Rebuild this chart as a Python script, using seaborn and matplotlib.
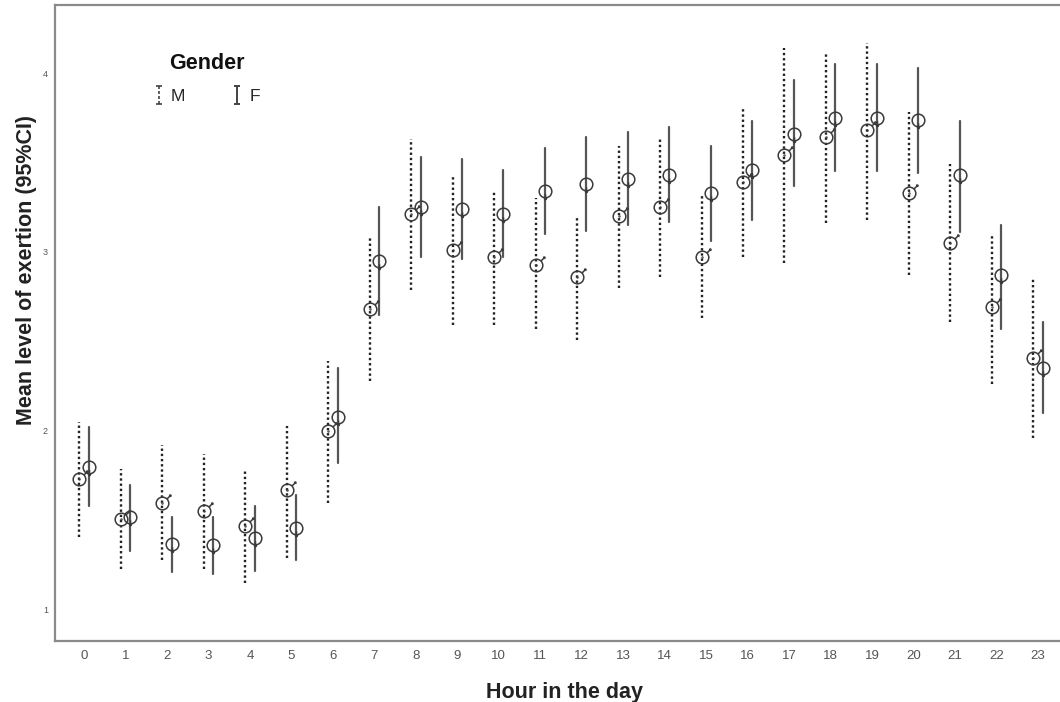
import numpy as np
import pandas as pd
import seaborn as sns
import matplotlib
matplotlib.use("Agg")
import matplotlib.pyplot as plt
from matplotlib.path import Path
from matplotlib.lines import Line2D

# ---------------- data ----------------
hours = list(range(24))
genders = ["M", "F"]
male_mean = [1.73, 1.51, 1.60, 1.55, 1.47, 1.67, 2.00, 2.68, 3.21, 3.01, 2.97, 2.93,
             2.86, 3.20, 3.25, 2.97, 3.39, 3.54, 3.64, 3.68, 3.33, 3.05, 2.69, 2.41]
male_low = [1.41, 1.23, 1.28, 1.23, 1.15, 1.29, 1.60, 2.28, 2.79, 2.59, 2.59, 2.57,
            2.51, 2.80, 2.86, 2.63, 2.97, 2.94, 3.16, 3.18, 2.87, 2.61, 2.26, 1.96]
male_high = [2.05, 1.79, 1.92, 1.87, 1.79, 2.03, 2.39, 3.09, 3.63, 3.42, 3.34, 3.30,
             3.20, 3.59, 3.63, 3.32, 3.81, 4.14, 4.11, 4.17, 3.78, 3.49, 3.10, 2.86]
female_mean = [1.80, 1.52, 1.37, 1.36, 1.40, 1.46, 2.08, 2.95, 3.25, 3.24, 3.21, 3.34,
               3.38, 3.41, 3.43, 3.33, 3.46, 3.66, 3.75, 3.75, 3.74, 3.43, 2.87, 2.35]
female_low = [1.58, 1.33, 1.21, 1.20, 1.22, 1.28, 1.82, 2.65, 2.97, 2.96, 2.97, 3.10,
              3.12, 3.15, 3.17, 3.06, 3.18, 3.37, 3.45, 3.45, 3.44, 3.11, 2.57, 2.10]
female_high = [2.02, 1.70, 1.52, 1.52, 1.58, 1.64, 2.35, 3.25, 3.53, 3.52, 3.46, 3.58,
               3.64, 3.67, 3.70, 3.59, 3.73, 3.96, 4.05, 4.05, 4.03, 3.73, 3.15, 2.61]
y_ticks = [1, 2, 3, 4]

# long-form table: low / mean / high per group -> median = mean, 100% PI = CI
rows = []
for g, lo, mu, hi in [("M", male_low, male_mean, male_high),
                      ("F", female_low, female_mean, female_high)]:
    for h, a, b, c in zip(hours, lo, mu, hi):
        for v in (a, b, c):
            rows.append({"Hour": h, "Gender": g, "value": v})
df = pd.DataFrame(rows)

# ---------------- style ----------------
sns.set_theme(style="white")
plt.rcParams["font.family"] = ["Liberation Sans", "DejaVu Sans"]

# custom markers
def male_path():
    circ = Path.unit_circle()
    dot = Path.circle((0, 0), 0.07)
    arrow = Path([(0.72, 0.72), (1.32, 1.32), (1.02, 1.30), (1.32, 1.32), (1.30, 1.02)],
                 [Path.MOVETO, Path.LINETO, Path.MOVETO, Path.LINETO, Path.LINETO])
    return Path.make_compound_path(circ, dot, arrow)

def female_path():
    circ = Path.unit_circle()
    tick = Path([(0, -0.45), (0, -1.32), (-0.2, -1.05), (0, -1.32), (0.2, -1.05)],
                [Path.MOVETO, Path.LINETO, Path.MOVETO, Path.LINETO, Path.LINETO])
    return Path.make_compound_path(circ, tick)

fig = plt.figure(figsize=(10.6, 7.02), dpi=100)
ax = fig.add_axes([55 / 1060, 1 - 640.7 / 702, 1 - 55 / 1060, (640.7 - 5) / 702])

sns.pointplot(data=df, x="Hour", y="value", hue="Gender", hue_order=genders, order=hours,
              estimator=np.median, errorbar=("pi", 100), dodge=0.225,
              markers=[male_path(), female_path()], linestyle="none",
              palette=["#3a3a3a", "#3a3a3a"], markersize=12, markeredgewidth=1.1,
              legend=False, ax=ax)

for ln in ax.lines:
    xd = np.asarray(ln.get_xdata(), dtype=float)
    if ln.get_marker() not in (None, "None", "none", ""):
        ln.set_markerfacecolor("none")
        ln.set_markeredgecolor("#3a3a3a")
        ln.set_zorder(4)
        continue
    if len(xd) == 2 and np.isclose(xd[0], xd[1]):
        frac = xd[0] - np.round(xd[0])
        if frac < 0:  # male (left)
            ln.set_linestyle((0, (1.0, 1.2)))
            ln.set_linewidth(1.7)
            ln.set_color("#222222")
        else:
            ln.set_linestyle("-")
            ln.set_linewidth(1.6)
            ln.set_color("#555555")
        ln.set_zorder(3)

ax.set_xlim(-0.70, 23.53)
ax.set_ylim(0.828, 4.38)
ax.set_yticks(y_ticks)
ax.set_yticklabels([str(t) for t in y_ticks])
ax.set_xticks(range(len(hours)))
ax.set_xticklabels([str(h) for h in hours])

for s in ["left", "bottom", "top"]:
    ax.spines[s].set_visible(True)
    ax.spines[s].set_color("#8a8a8a")
    ax.spines[s].set_linewidth(1.6)
ax.spines["right"].set_visible(False)

ax.tick_params(axis="x", length=0, pad=7, labelsize=9.5, labelcolor="#555555")
ax.tick_params(axis="y", length=0, pad=5, labelsize=6.5, labelcolor="#555555")

ax.set_xlabel("Hour in the day", fontsize=15.5, fontweight="bold", color="#222222")
ax.set_ylabel("Mean level of exertion (95%CI)", fontsize=15.5, fontweight="bold",
              color="#222222")
ax.xaxis.set_label_coords(0.507, -0.081)
ax.yaxis.set_label_coords(-0.028, 0.583)
ax.xaxis.label.set_va("center")
ax.yaxis.label.set_va("center")

# legend icons
def i_beam(dotted):
    verts, codes = [], []
    verts += [(-0.35, 1), (0.35, 1), (-0.35, -1), (0.35, -1)]
    codes += [Path.MOVETO, Path.LINETO, Path.MOVETO, Path.LINETO]
    if dotted:
        ys = np.linspace(1, -1, 8)
        for k in range(0, 7, 2):
            verts += [(0, ys[k]), (0, ys[k + 1])]
            codes += [Path.MOVETO, Path.LINETO]
    else:
        verts += [(0, 1), (0, -1)]
        codes += [Path.MOVETO, Path.LINETO]
    return Path(verts, codes)

handles = [
    Line2D([], [], marker=i_beam(True), linestyle="none", markersize=13,
           markeredgecolor="#444444", markeredgewidth=1.2),
    Line2D([], [], marker=i_beam(False), linestyle="none", markersize=13,
           markeredgecolor="#444444", markeredgewidth=1.4),
]
leg = ax.legend(handles, genders, title="Gender", ncol=2, frameon=False,
                loc="upper left", bbox_to_anchor=(138 / 1060, 1 - 37 / 702),
                bbox_transform=fig.transFigure, fontsize=12.5, handlelength=0.6,
                handletextpad=0.4, columnspacing=2.7, labelspacing=0.9,
                title_fontproperties={"weight": "bold", "size": 15.5})
leg.get_title().set_color("#111111")

fig.savefig("out.png", dpi=100)
